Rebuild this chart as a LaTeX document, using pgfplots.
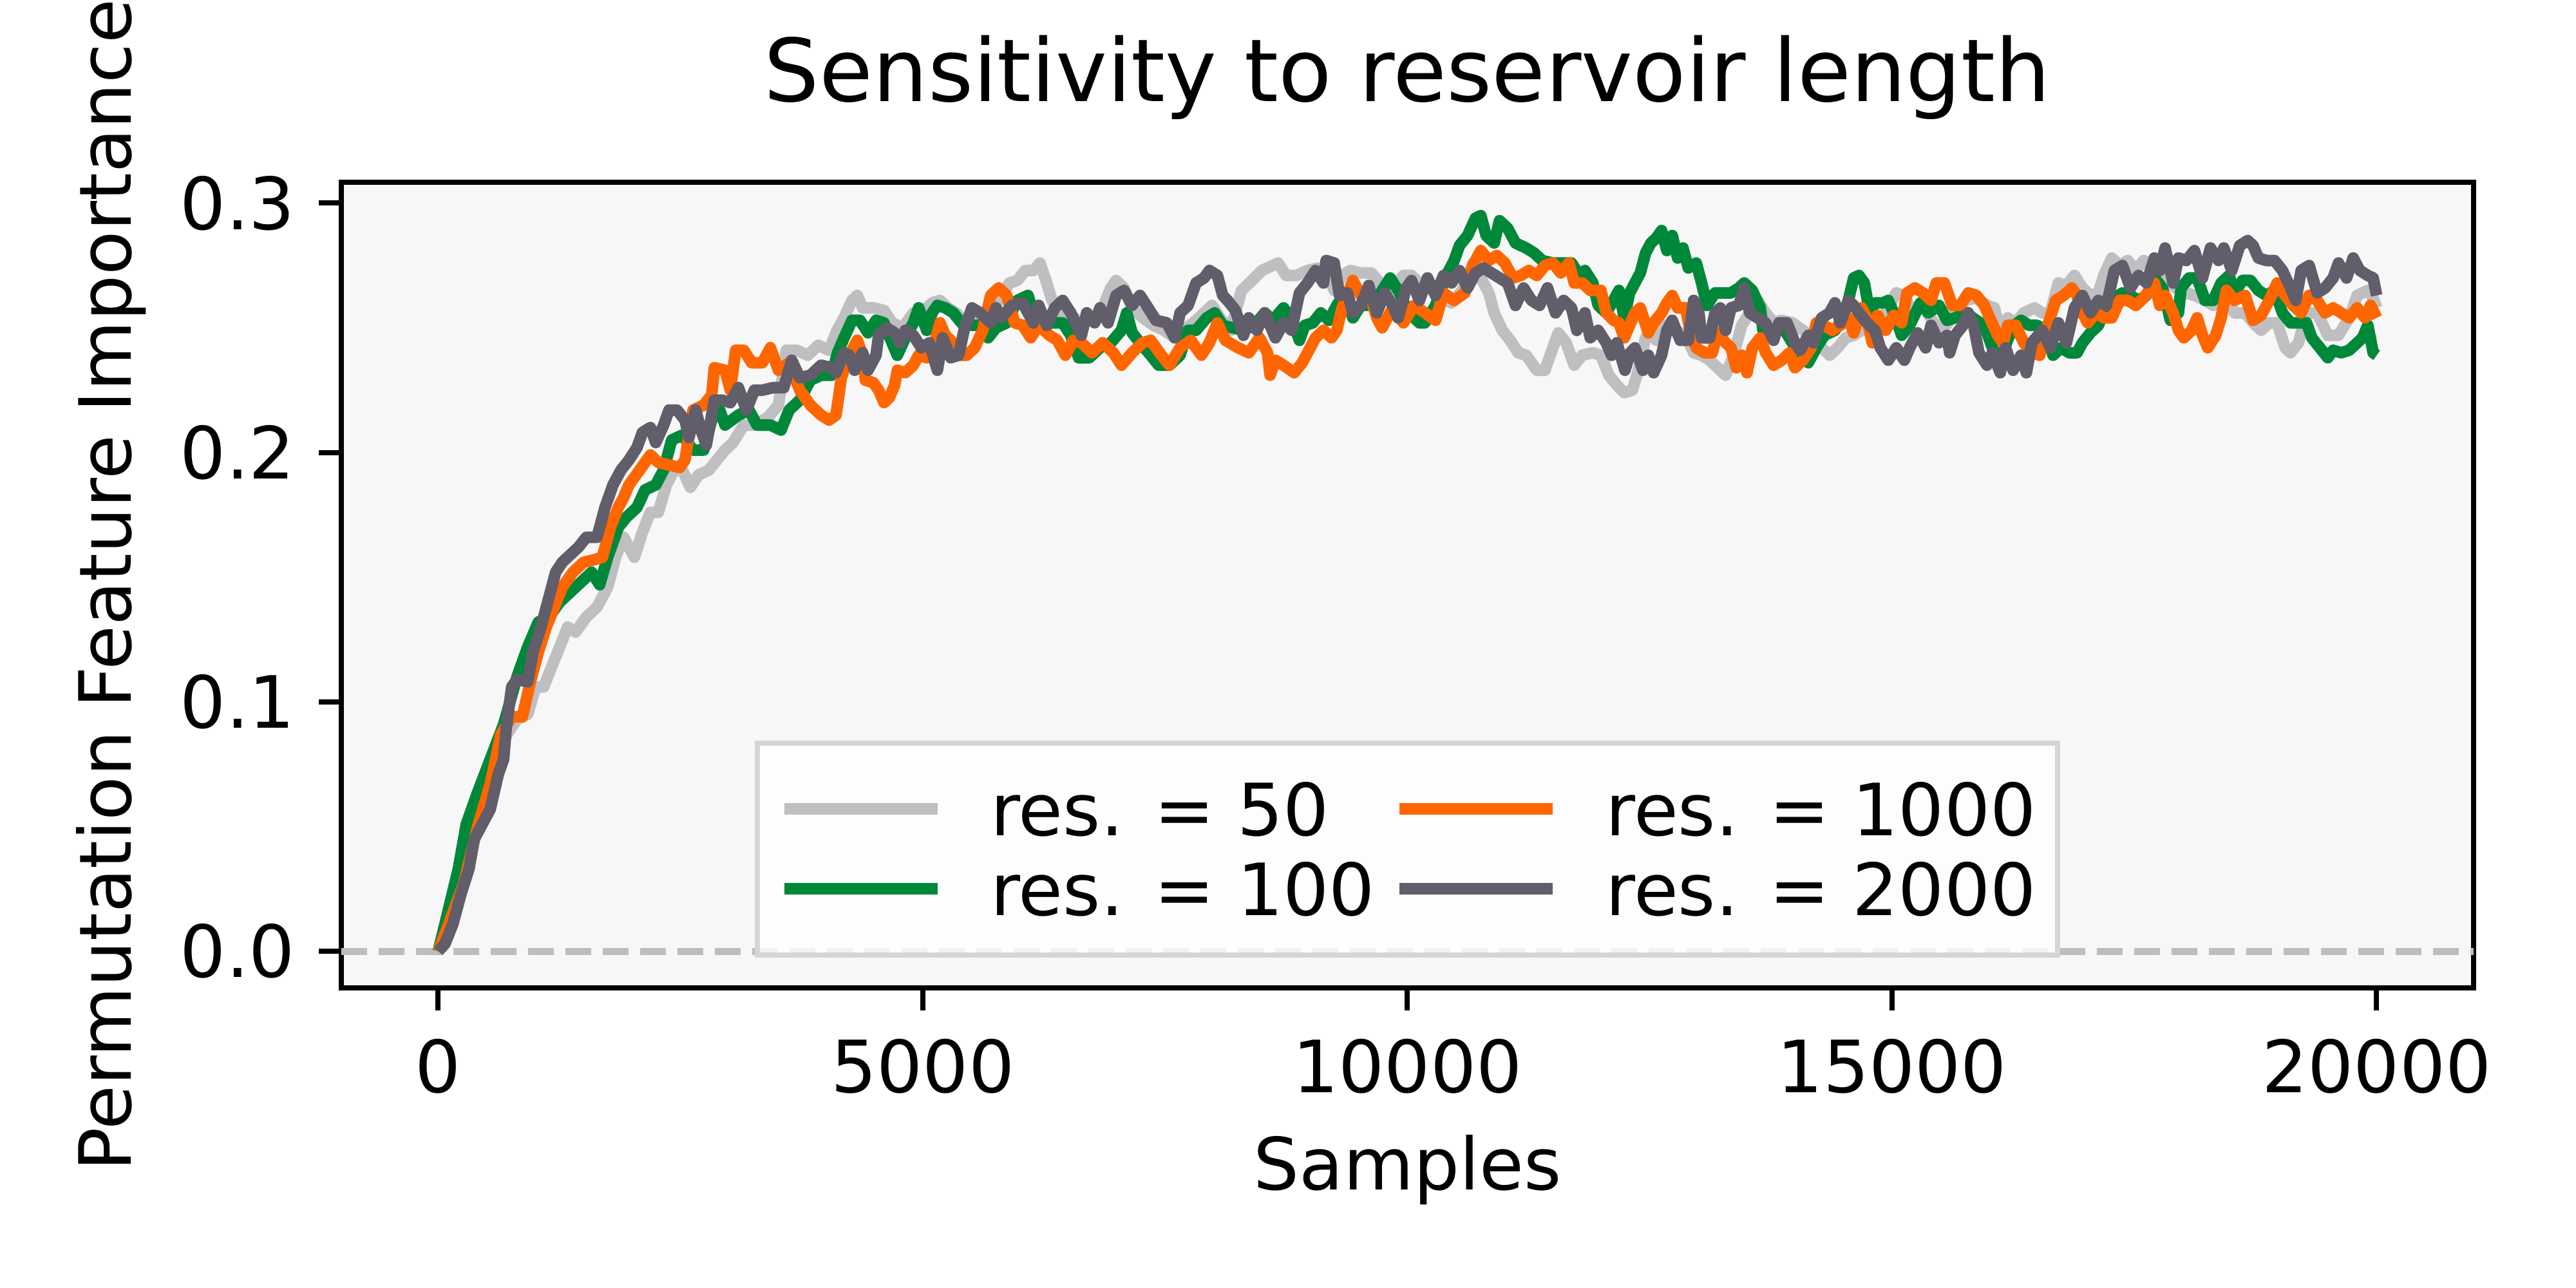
\documentclass[border=0pt]{standalone}
\usepackage{pgfplots}
\pgfplotsset{compat=1.18}
\usepackage{pgfplotstable}
\usepackage{fontspec}
\setmainfont{DejaVu Sans}
\definecolor{cA}{RGB}{191,191,193}
\definecolor{cB}{RGB}{0,136,58}
\definecolor{cC}{RGB}{255,102,0}
\definecolor{cD}{RGB}{98,93,106}
\definecolor{bgcol}{RGB}{247,247,247}
\definecolor{zerocol}{RGB}{189,189,189}
\definecolor{legframe}{RGB}{213,213,213}
\begin{document}
\pgfplotstableread{
x y
0 0
125 0.013
262 0.031
400 0.049
537 0.067
675 0.085
813 0.093
923 0.095
1005 0.106
1088 0.106
1170 0.114
1253 0.122
1335 0.130
1418 0.128
1528 0.134
1638 0.138
1748 0.146
1831 0.158
1913 0.166
2024 0.158
2106 0.168
2189 0.176
2271 0.176
2354 0.187
2436 0.193
2519 0.193
2601 0.186
2684 0.191
2794 0.193
2876 0.197
2959 0.201
3042 0.204
3152 0.211
3262 0.211
3399 0.214
3510 0.219
3592 0.241
3702 0.241
3812 0.239
3922 0.243
4032 0.241
4115 0.249
4187 0.254
4269 0.261
4324 0.263
4379 0.258
4489 0.258
4599 0.257
4682 0.252
4792 0.250
4902 0.256
5012 0.257
5095 0.260
5177 0.261
5260 0.258
5342 0.256
5452 0.252
5563 0.253
5673 0.255
5783 0.261
5893 0.268
5975 0.269
6058 0.273
6140 0.273
6209 0.276
6278 0.268
6333 0.261
6416 0.256
6526 0.255
6636 0.252
6746 0.253
6856 0.258
6939 0.266
6994 0.269
7076 0.266
7159 0.258
7269 0.254
7379 0.251
7489 0.249
7599 0.246
7682 0.249
7792 0.252
7902 0.256
7984 0.259
8067 0.254
8177 0.249
8287 0.265
8370 0.268
8500 0.273
8666 0.276
8748 0.271
8858 0.271
8969 0.273
9079 0.274
9189 0.270
9244 0.265
9326 0.271
9409 0.273
9519 0.272
9629 0.272
9739 0.267
9849 0.266
9959 0.271
10042 0.271
10124 0.268
10234 0.266
10345 0.262
10455 0.260
10565 0.265
10675 0.276
10758 0.270
10840 0.264
10895 0.256
10978 0.249
11060 0.245
11143 0.240
11225 0.239
11335 0.233
11418 0.233
11500 0.242
11556 0.248
11638 0.244
11721 0.235
11803 0.239
11913 0.240
11996 0.239
12078 0.231
12161 0.227
12237 0.224
12320 0.225
12375 0.232
12457 0.246
12512 0.249
12567 0.245
12650 0.251
12760 0.249
12870 0.247
12953 0.240
13035 0.239
13118 0.237
13200 0.234
13283 0.231
13365 0.239
13448 0.251
13531 0.256
13613 0.261
13696 0.256
13778 0.252
13861 0.253
13971 0.252
14081 0.249
14191 0.246
14274 0.242
14356 0.239
14439 0.242
14521 0.246
14604 0.247
14686 0.249
14769 0.249
14851 0.251
14934 0.256
15044 0.264
15127 0.263
15209 0.256
15319 0.259
15429 0.252
15539 0.250
15650 0.256
15760 0.261
15870 0.262
15980 0.259
16056 0.258
16111 0.249
16194 0.254
16276 0.252
16359 0.256
16469 0.258
16551 0.256
16634 0.256
16716 0.268
16799 0.267
16882 0.271
16964 0.266
17047 0.263
17129 0.264
17184 0.271
17267 0.278
17349 0.275
17432 0.277
17515 0.273
17597 0.277
17707 0.275
17817 0.270
17927 0.266
18037 0.264
18120 0.263
18230 0.261
18313 0.259
18423 0.263
18533 0.256
18643 0.256
18725 0.252
18808 0.249
18891 0.252
18973 0.252
19056 0.242
19111 0.240
19193 0.244
19276 0.256
19386 0.256
19496 0.247
19606 0.247
19716 0.254
19799 0.263
19909 0.265
19964 0.262
20000 0.258
}\dA
\pgfplotstableread{
x y
0 0
70 0.011
207 0.033
290 0.051
400 0.063
537 0.077
675 0.091
813 0.110
923 0.122
1033 0.132
1143 0.134
1253 0.140
1363 0.144
1473 0.148
1583 0.152
1666 0.147
1748 0.158
1858 0.170
1941 0.174
2051 0.178
2134 0.185
2244 0.187
2326 0.193
2409 0.205
2519 0.207
2629 0.201
2739 0.201
2821 0.213
2904 0.217
2959 0.211
3097 0.215
3207 0.217
3289 0.211
3427 0.211
3537 0.209
3620 0.217
3730 0.221
3840 0.229
3950 0.231
4060 0.231
4120 0.240
4187 0.246
4269 0.253
4352 0.253
4434 0.248
4517 0.253
4599 0.252
4682 0.244
4737 0.239
4819 0.246
4902 0.252
4957 0.258
5040 0.249
5095 0.256
5150 0.259
5232 0.258
5315 0.256
5397 0.252
5480 0.251
5590 0.251
5673 0.246
5755 0.250
5865 0.252
5975 0.261
6085 0.263
6140 0.256
6223 0.251
6333 0.252
6443 0.252
6526 0.247
6608 0.238
6718 0.238
6828 0.242
6939 0.244
7049 0.249
7104 0.256
7159 0.248
7241 0.244
7351 0.239
7434 0.235
7544 0.235
7654 0.239
7737 0.249
7819 0.249
7929 0.254
8012 0.256
8094 0.251
8198 0.250
8308 0.249
8418 0.251
8528 0.256
8611 0.253
8721 0.258
8804 0.254
8886 0.245
8941 0.251
9024 0.252
9106 0.256
9189 0.253
9271 0.259
9354 0.264
9437 0.254
9519 0.259
9629 0.259
9739 0.265
9822 0.270
9904 0.265
10014 0.256
10124 0.252
10180 0.252
10290 0.259
10400 0.271
10482 0.277
10537 0.283
10620 0.287
10702 0.294
10757 0.295
10812 0.287
10895 0.284
10950 0.293
11033 0.290
11115 0.284
11225 0.282
11308 0.280
11390 0.277
11500 0.276
11611 0.276
11693 0.276
11776 0.271
11831 0.273
11913 0.268
11968 0.259
12051 0.256
12127 0.261
12182 0.265
12237 0.254
12292 0.264
12347 0.268
12402 0.272
12457 0.280
12512 0.284
12567 0.286
12622 0.289
12677 0.281
12732 0.287
12788 0.278
12843 0.282
12898 0.274
12980 0.276
13035 0.268
13090 0.259
13173 0.264
13255 0.264
13338 0.264
13420 0.266
13475 0.268
13558 0.265
13641 0.258
13668 0.249
13751 0.247
13861 0.251
13971 0.244
14053 0.239
14136 0.236
14219 0.242
14301 0.247
14411 0.249
14494 0.254
14549 0.261
14604 0.270
14659 0.271
14714 0.268
14769 0.256
14824 0.260
14906 0.260
14961 0.261
15017 0.256
15099 0.247
15182 0.251
15292 0.260
15374 0.256
15484 0.259
15567 0.253
15650 0.254
15760 0.256
15870 0.253
15952 0.251
16035 0.242
16117 0.236
16190 0.245
16260 0.251
16331 0.253
16414 0.251
16496 0.251
16579 0.249
16661 0.239
16744 0.242
16827 0.240
16909 0.240
16964 0.244
17047 0.248
17129 0.251
17212 0.259
17294 0.262
17377 0.264
17460 0.263
17542 0.261
17625 0.263
17707 0.270
17790 0.266
17872 0.253
17955 0.256
17982 0.266
18065 0.270
18148 0.270
18230 0.261
18313 0.261
18395 0.268
18478 0.271
18533 0.264
18615 0.269
18698 0.269
18780 0.265
18863 0.263
18946 0.265
19028 0.256
19111 0.252
19193 0.252
19276 0.252
19331 0.246
19414 0.242
19496 0.238
19551 0.241
19634 0.240
19716 0.241
19799 0.244
19854 0.246
19909 0.251
19964 0.240
20000 0.239
}\dB
\pgfplotstableread{
x y
0 0
100 0.010
262 0.027
400 0.049
537 0.067
647 0.087
758 0.094
868 0.094
950 0.108
1033 0.120
1115 0.130
1198 0.138
1280 0.146
1390 0.152
1501 0.156
1611 0.157
1693 0.158
1776 0.170
1858 0.178
1913 0.182
1968 0.187
2079 0.193
2189 0.199
2271 0.196
2381 0.195
2491 0.194
2546 0.197
2629 0.217
2739 0.219
2821 0.223
2849 0.234
2959 0.233
3014 0.225
3069 0.241
3152 0.241
3234 0.236
3344 0.236
3427 0.242
3510 0.233
3620 0.236
3730 0.225
3840 0.219
3950 0.215
4032 0.213
4104 0.215
4159 0.230
4242 0.239
4324 0.245
4379 0.239
4407 0.229
4489 0.228
4544 0.225
4599 0.220
4654 0.222
4709 0.227
4737 0.233
4819 0.232
4902 0.235
4957 0.239
5040 0.238
5122 0.244
5177 0.252
5232 0.247
5287 0.245
5370 0.239
5452 0.239
5535 0.242
5618 0.249
5700 0.263
5783 0.266
5865 0.263
5948 0.252
6030 0.251
6113 0.246
6195 0.251
6306 0.247
6388 0.245
6471 0.239
6553 0.245
6636 0.244
6746 0.240
6856 0.244
6966 0.240
7049 0.235
7159 0.240
7269 0.244
7351 0.245
7461 0.239
7544 0.235
7654 0.242
7764 0.245
7874 0.239
7957 0.244
8039 0.252
8122 0.245
8253 0.242
8363 0.240
8473 0.246
8556 0.240
8583 0.231
8638 0.237
8721 0.235
8831 0.232
8914 0.236
8969 0.240
9051 0.246
9134 0.249
9216 0.246
9271 0.249
9326 0.258
9437 0.269
9519 0.263
9629 0.261
9684 0.254
9739 0.250
9849 0.258
9959 0.252
10069 0.259
10180 0.256
10290 0.253
10372 0.264
10482 0.261
10592 0.264
10675 0.275
10757 0.281
10840 0.277
10922 0.279
11005 0.276
11088 0.270
11170 0.271
11253 0.273
11335 0.271
11418 0.275
11500 0.276
11583 0.272
11666 0.276
11721 0.268
11803 0.268
11886 0.265
11996 0.265
12051 0.256
12127 0.253
12182 0.252
12237 0.246
12292 0.251
12347 0.256
12402 0.258
12485 0.248
12540 0.252
12622 0.256
12677 0.260
12732 0.263
12788 0.258
12870 0.258
12925 0.247
12980 0.242
13063 0.240
13145 0.240
13200 0.248
13283 0.244
13338 0.242
13393 0.234
13448 0.239
13503 0.232
13558 0.242
13641 0.246
13696 0.240
13778 0.235
13861 0.237
13943 0.240
13998 0.234
14081 0.237
14164 0.242
14219 0.252
14301 0.251
14384 0.249
14466 0.251
14549 0.254
14604 0.248
14686 0.258
14741 0.254
14796 0.244
14851 0.255
14934 0.249
15017 0.255
15099 0.252
15154 0.264
15237 0.266
15319 0.264
15402 0.261
15457 0.268
15539 0.268
15622 0.259
15705 0.259
15787 0.264
15870 0.263
15952 0.259
16007 0.254
16090 0.247
16145 0.244
16194 0.251
16276 0.251
16359 0.244
16441 0.240
16524 0.239
16606 0.251
16689 0.261
16771 0.263
16854 0.266
16909 0.263
16964 0.256
17019 0.252
17102 0.256
17184 0.254
17267 0.254
17349 0.261
17432 0.261
17515 0.259
17597 0.262
17707 0.268
17762 0.259
17817 0.263
17900 0.256
17955 0.249
18010 0.246
18092 0.249
18148 0.254
18203 0.247
18258 0.242
18340 0.247
18395 0.254
18450 0.265
18533 0.261
18643 0.263
18725 0.253
18808 0.255
18891 0.261
18973 0.268
19056 0.263
19138 0.259
19221 0.256
19303 0.263
19386 0.261
19468 0.256
19551 0.258
19634 0.256
19716 0.254
19799 0.258
19881 0.254
19937 0.259
20000 0.254
}\dC
\pgfplotstableread{
x y
0 0
70 0.003
152 0.011
235 0.023
317 0.033
372 0.045
455 0.051
537 0.057
620 0.071
675 0.077
703 0.090
758 0.106
813 0.109
923 0.108
978 0.120
1060 0.130
1143 0.142
1212 0.152
1280 0.156
1363 0.159
1446 0.162
1528 0.166
1638 0.166
1721 0.178
1803 0.187
1886 0.193
1968 0.197
2051 0.202
2106 0.208
2189 0.210
2244 0.204
2326 0.211
2381 0.217
2464 0.217
2546 0.213
2587 0.206
2656 0.217
2711 0.209
2766 0.203
2849 0.221
2931 0.221
3014 0.220
3097 0.226
3179 0.217
3262 0.225
3344 0.225
3454 0.226
3565 0.226
3647 0.237
3730 0.230
3840 0.231
3950 0.235
4060 0.234
4104 0.232
4187 0.240
4242 0.239
4297 0.233
4379 0.240
4434 0.233
4517 0.239
4544 0.247
4627 0.250
4709 0.248
4764 0.244
4819 0.249
4902 0.247
4985 0.242
5067 0.244
5150 0.233
5205 0.246
5287 0.238
5370 0.239
5425 0.249
5507 0.258
5590 0.256
5700 0.252
5755 0.258
5810 0.254
5920 0.259
6030 0.260
6140 0.252
6195 0.259
6278 0.251
6361 0.258
6443 0.261
6526 0.256
6636 0.247
6691 0.256
6773 0.252
6828 0.258
6911 0.252
6994 0.263
7076 0.265
7159 0.259
7241 0.263
7324 0.258
7406 0.253
7516 0.252
7599 0.246
7654 0.256
7737 0.259
7819 0.268
7902 0.270
7957 0.273
8039 0.271
8094 0.263
8143 0.261
8226 0.257
8308 0.247
8363 0.254
8446 0.249
8528 0.256
8638 0.246
8721 0.252
8804 0.249
8886 0.264
8969 0.268
9051 0.273
9134 0.268
9161 0.277
9244 0.276
9299 0.263
9381 0.264
9437 0.256
9519 0.259
9601 0.267
9684 0.256
9766 0.264
9849 0.259
9904 0.254
9987 0.266
10042 0.269
10124 0.261
10207 0.270
10290 0.263
10372 0.271
10455 0.268
10537 0.273
10620 0.266
10702 0.272
10785 0.274
10867 0.272
10950 0.270
11033 0.268
11115 0.259
11198 0.266
11280 0.261
11363 0.259
11445 0.266
11528 0.256
11611 0.261
11693 0.258
11748 0.249
11831 0.256
11886 0.246
11968 0.249
12051 0.244
12106 0.239
12161 0.244
12244 0.233
12298 0.240
12347 0.242
12430 0.233
12485 0.239
12540 0.232
12622 0.239
12677 0.249
12732 0.253
12815 0.245
12898 0.245
12953 0.261
13008 0.256
13035 0.246
13118 0.246
13173 0.256
13228 0.258
13283 0.249
13338 0.258
13420 0.259
13475 0.266
13531 0.256
13613 0.254
13696 0.252
13778 0.245
13833 0.252
13916 0.252
13998 0.244
14053 0.241
14136 0.247
14191 0.244
14274 0.254
14356 0.256
14411 0.260
14466 0.252
14549 0.261
14604 0.259
14659 0.256
14741 0.252
14824 0.249
14879 0.242
14961 0.237
15044 0.242
15127 0.237
15182 0.242
15264 0.248
15347 0.242
15402 0.251
15484 0.244
15567 0.247
15594 0.240
15650 0.247
15732 0.251
15787 0.256
15842 0.251
15897 0.240
15980 0.235
16035 0.240
16117 0.232
16172 0.242
16249 0.233
16331 0.239
16386 0.232
16441 0.244
16551 0.249
16634 0.242
16716 0.252
16799 0.244
16882 0.258
16964 0.263
17047 0.256
17129 0.261
17212 0.259
17294 0.273
17377 0.275
17460 0.266
17542 0.271
17625 0.268
17707 0.278
17762 0.273
17817 0.282
17900 0.268
17955 0.278
18037 0.277
18120 0.281
18203 0.270
18285 0.282
18368 0.277
18423 0.282
18505 0.273
18588 0.283
18670 0.285
18725 0.283
18780 0.278
18863 0.277
18946 0.277
19028 0.273
19111 0.266
19166 0.261
19221 0.273
19303 0.275
19386 0.264
19468 0.266
19551 0.270
19606 0.276
19689 0.270
19758 0.278
19826 0.273
19909 0.271
19964 0.270
20000 0.263
}\dD
\begin{tikzpicture}
\useasboundingbox (-53pt,-46.6pt) rectangle (347pt,153.4pt);
\begin{axis}[
  at={(0pt,0pt)}, anchor=south west,
  scale only axis, width=331.1pt, height=125.1pt,
  xmin=-1000, xmax=21000, ymin=-0.0147, ymax=0.3084,
  scaled x ticks=false, scaled y ticks=false,
  axis background/.style={fill=bgcol},
  axis line style={black, line width=0.8pt},
  tick align=outside, major tick length=3.5pt,
  every tick/.style={black, line width=0.8pt},
  xtick pos=bottom, ytick pos=left,
  xtick={0,5000,10000,15000,20000},
  xticklabels={0,5000,10000,15000,20000},
  ytick={0,0.1,0.2,0.3},
  yticklabels={0.0,0.1,0.2,0.3},
  tick label style={font=\fontsize{11.2}{13.4}\selectfont, inner sep=0pt},
  xticklabel style={anchor=base, yshift=-12.8pt},
  yticklabel style={anchor=east, xshift=-3.5pt},
  title={Sensitivity to reservoir length},
  title style={at={(axis description cs:0.5,1.052)}, anchor=base, inner sep=0pt, font=\fontsize{13.5}{16}\selectfont},
  xlabel={Samples},
  xlabel style={at={(axis description cs:0.5,-0.2510)}, anchor=base, inner sep=0pt, font=\fontsize{11.2}{13.4}\selectfont},
  ylabel={Permutation Feature Importance},
  ylabel style={at={(axis description cs:-0.0985,0.5)}, anchor=base, inner sep=0pt, font=\fontsize{11.2}{13.4}\selectfont},
  legend columns=2,
  transpose legend,
  legend cell align=left,
  legend image code/.code={\draw[#1, line width=1.8pt] (0pt,0pt) -- (23.8pt,0pt);},
  legend style={at={(axis description cs:0.5,0)}, anchor=south, yshift=4.7pt,
    fill=white, fill opacity=0.8, text opacity=1, draw=legframe, line width=0.8pt,
    inner xsep=3.3pt, inner ysep=6.1pt, row sep=4.1pt,
    nodes={inner sep=0pt, text depth=0pt, font=\fontsize{11.2}{13.4}\selectfont},
    /tikz/every odd column/.style={column sep=7.3pt},
    /tikz/every even column/.style={column sep=2.9pt}},
]
\addplot[forget plot, color=zerocol, line width=1.1pt, dash pattern=on 4pt off 1.8pt] coordinates {(-1000,0) (21000,0)};
\addplot[color=cA, line width=1.8pt, line join=round] table[x=x,y=y] {\dA};
\addlegendentry{res. = 50}
\addplot[color=cB, line width=1.8pt, line join=round] table[x=x,y=y] {\dB};
\addlegendentry{res. = 100}
\addplot[color=cC, line width=1.8pt, line join=round] table[x=x,y=y] {\dC};
\addlegendentry{res. = 1000}
\addplot[color=cD, line width=1.8pt, line join=round] table[x=x,y=y] {\dD};
\addlegendentry{res. = 2000}
\end{axis}
\end{tikzpicture}
\end{document}
